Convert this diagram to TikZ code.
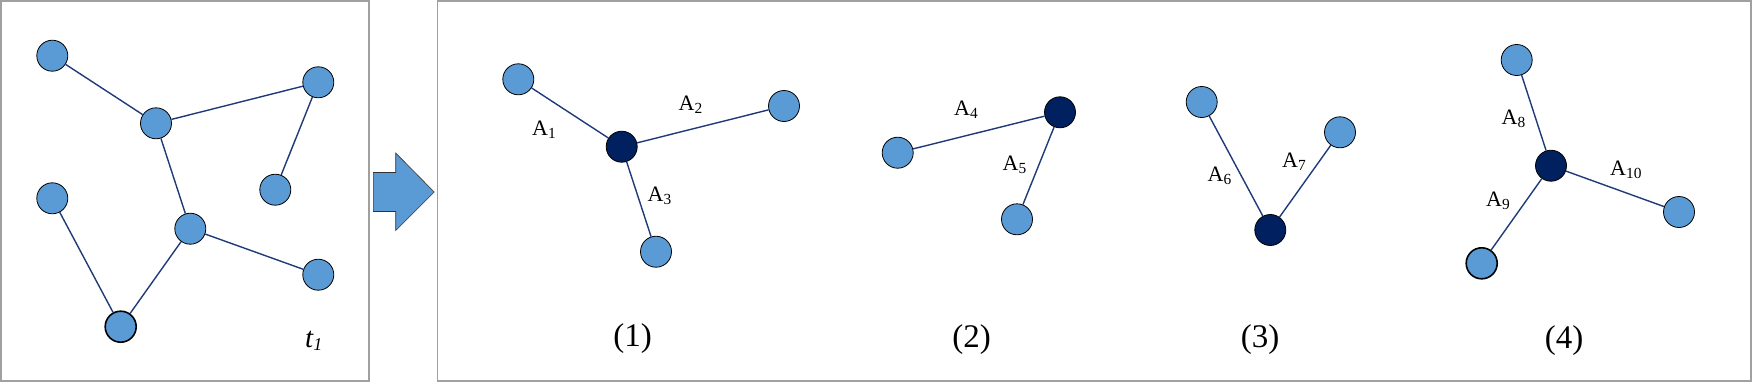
\documentclass[tikz,border=0pt]{standalone}
\usepackage{fontspec}
\setmainfont{Liberation Serif}
\definecolor{lightnode}{HTML}{5B9BD5}
\definecolor{hubnode}{HTML}{002060}
\definecolor{edgecol}{HTML}{1F3A78}
\definecolor{boxgray}{HTML}{A0A0A0}
\tikzset{
  leaf/.style={circle,draw=black,line width=0.8pt,fill=lightnode,minimum size=31pt,inner sep=0pt},
  leafthick/.style={leaf,line width=1.6pt},
  hub/.style={circle,draw=black,line width=0.8pt,fill=hubnode,minimum size=31pt,inner sep=0pt},
  edge/.style={draw=edgecol,line width=1.4pt},
  frame/.style={draw=boxgray,line width=1.8pt},
  elabel/.style={anchor=base west,inner sep=0pt,font=\fontsize{22}{26}\selectfont},
  caption/.style={anchor=base,inner sep=0pt,font=\fontsize{33}{38}\selectfont}
}
\begin{document}
\begin{tikzpicture}[x=1pt,y=-1pt]
\useasboundingbox (0,0) rectangle (1753,383);
% frames
\draw[frame] (1,1) rectangle (369,381);
\draw[frame] (437.5,1) rectangle (1751,381);
% big arrow
\draw[fill=lightnode,draw=black!80,line width=0.6pt]
  (373.3,172.5) -- (395.7,172.5) -- (395.7,153) -- (434.2,192) -- (395.7,230.5) -- (395.7,211.5) -- (373.3,211.5) -- cycle;
% graph t1
\node[leaf] (a) at (52.3,55.7) {};
\node[leaf] (b) at (156,123.3) {};
\node[leaf] (c) at (318.3,82.3) {};
\node[leaf] (d) at (275.3,189.7) {};
\node[leaf] (e) at (52.3,198.3) {};
\node[leaf] (f) at (190.3,228.7) {};
\node[leaf] (g) at (318.3,274.7) {};
\node[leafthick] (h) at (120.7,326.7) {};
\draw[edge] (a) -- (b);
\draw[edge] (b) -- (c);
\draw[edge] (c) -- (d);
\draw[edge] (b) -- (f);
\draw[edge] (f) -- (g);
\draw[edge] (f) -- (h);
\draw[edge] (e) -- (h);
\node[anchor=base west,inner sep=0pt,font=\fontsize{29}{32}\selectfont\itshape] (tl) at (305,347.5) {t\raisebox{-3pt}{\fontsize{18}{20}\selectfont 1}};
% (1)
\node[hub] (h1) at (621.7,146.7) {};
\node[leaf] (p1) at (518.3,79.3) {};
\node[leaf] (q1) at (784,106) {};
\node[leaf] (r1) at (656,251.7) {};
\draw[edge] (h1) -- (p1);
\draw[edge] (h1) -- (q1);
\draw[edge] (h1) -- (r1);
\node[elabel] (la1) at (532,135.5) {A\textsubscript{1}};
\node[elabel] (la2) at (678.5,110) {A\textsubscript{2}};
\node[elabel] (la3) at (647.5,201.7) {A\textsubscript{3}};
\node[caption] (c1) at (632.7,346) {(1)};
% (2)
\node[hub] (h2) at (1060,112.3) {};
\node[leaf] (p2) at (897.7,152.7) {};
\node[leaf] (q2) at (1017,219.3) {};
\draw[edge] (h2) -- (p2);
\draw[edge] (h2) -- (q2);
\node[elabel] (la4) at (954,115) {A\textsubscript{4}};
\node[elabel] (la5) at (1002.5,170.7) {A\textsubscript{5}};
\node[caption] (c2) at (971.7,347) {(2)};
% (3)
\node[hub] (h3) at (1270.3,230) {};
\node[leaf] (p3) at (1201.7,102) {};
\node[leaf] (q3) at (1340,132.3) {};
\draw[edge] (h3) -- (p3);
\draw[edge] (h3) -- (q3);
\node[elabel] (la6) at (1207.5,181) {A\textsubscript{6}};
\node[elabel] (la7) at (1282,167.3) {A\textsubscript{7}};
\node[caption] (c3) at (1260,347) {(3)};
% (4)
\node[hub] (h4) at (1551,165.7) {};
\node[leaf] (p4) at (1516.7,60) {};
\node[leaf] (q4) at (1679,212) {};
\node[leafthick] (r4) at (1481.7,263.3) {};
\draw[edge] (h4) -- (p4);
\draw[edge] (h4) -- (q4);
\draw[edge] (h4) -- (r4);
\node[elabel] (la8) at (1501.5,124.3) {A\textsubscript{8}};
\node[elabel] (la9) at (1486,206.7) {A\textsubscript{9}};
\node[elabel] (la10) at (1610,175) {A\textsubscript{10}};
\node[caption] (c4) at (1564,348.5) {(4)};
\end{tikzpicture}
\end{document}
